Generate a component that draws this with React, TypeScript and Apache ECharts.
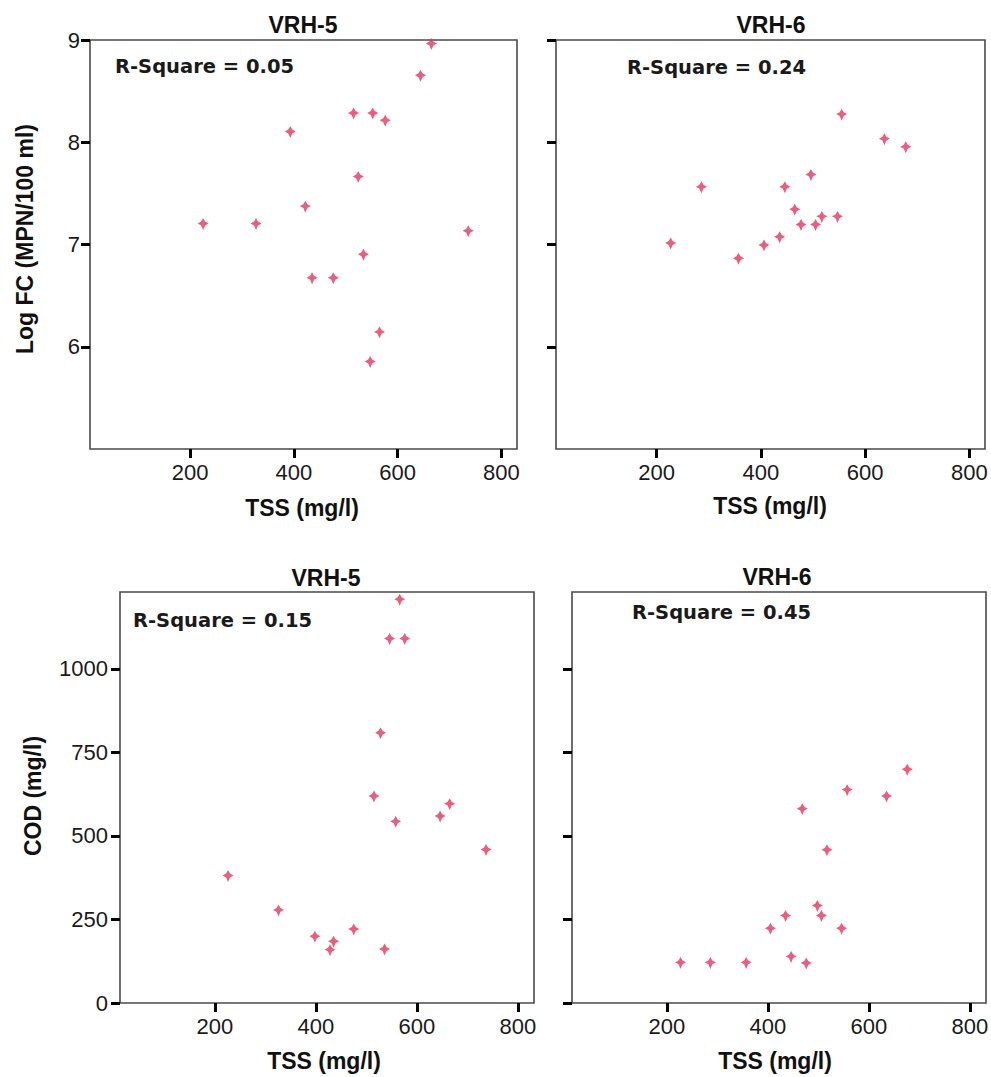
import React, { useEffect, useRef } from "react";
import * as echarts from "echarts";

// ---- data ----
const xTickValues = [200, 400, 600, 800];
const fcTickValues = [6, 7, 8, 9];
const codTickValues = [0, 250, 500, 750, 1000];

const panelTitles = ["VRH-5", "VRH-6", "VRH-5", "VRH-6"];
const rSquareLabels = ["R-Square = 0.05", "R-Square = 0.24", "R-Square = 0.15", "R-Square = 0.45"];

// VRH-5 : Log FC vs TSS
const vrh5TssFc = [225, 327, 393, 422, 435, 476, 515, 524, 534, 552, 547, 565, 576, 644, 665, 736];
const vrh5LogFc = [7.2, 7.2, 8.1, 7.37, 6.67, 6.67, 8.28, 7.66, 6.9, 8.28, 5.85, 6.14, 8.21, 8.65, 8.96, 7.13];

// VRH-6 : Log FC vs TSS
const vrh6TssFc = [227, 286, 357, 406, 436, 446, 465, 477, 496, 505, 517, 547, 555, 637, 678];
const vrh6LogFc = [7.01, 7.56, 6.86, 6.99, 7.07, 7.56, 7.34, 7.19, 7.68, 7.19, 7.27, 7.27, 8.27, 8.03, 7.95];

// VRH-5 : COD vs TSS
const vrh5TssCod = [226, 326, 398, 428, 435, 475, 515, 528, 536, 546, 558, 566, 576, 646, 665, 737];
const vrh5Cod = [380, 277, 198, 158, 183, 220, 618, 807, 160, 1089, 542, 1207, 1089, 558, 595, 458];

// VRH-6 : COD vs TSS
const vrh6TssCod = [227, 286, 357, 405, 435, 446, 468, 476, 498, 506, 517, 546, 557, 635, 676];
const vrh6Cod = [120, 120, 120, 222, 260, 138, 580, 118, 290, 260, 457, 222, 637, 618, 698];

const pairs = (xs: number[], ys: number[]) => xs.map((x, i) => [x, ys[i]]);

const FONT = "Liberation Sans";
const MARKER = "path://M0,-5L1.8,-1.8L5,0L1.8,1.8L0,6L-1.8,1.8L-5,0L-1.8,-1.8Z";
const MARK_COLOR = "#e5365c";

export default function App() {
  const ref = useRef<HTMLDivElement>(null);

  useEffect(() => {
    if (!ref.current) return;
    const chart = echarts.init(ref.current, null, { renderer: "svg" });

    const grids = [
      { left: 90, top: 40, width: 427, height: 409 },
      { left: 556, top: 40, width: 429, height: 409 },
      { left: 120, top: 592, width: 414, height: 411 },
      { left: 572, top: 592, width: 414, height: 411 },
    ].map((g) => ({
      ...g,
      show: true,
      borderColor: "#4a4a4a",
      borderWidth: 1.6,
      backgroundColor: "#ffffff",
      containLabel: false,
      outerBoundsMode: "none",
    }));

    const tick = { show: true, inside: false, length: 9, lineStyle: { color: "#000", width: 3 } };
    const labelStyle = { fontFamily: FONT, fontSize: 22, color: "#1a1a1a" };

    const xAxis = [0, 1, 2, 3].map((i) => ({
      type: "value",
      gridIndex: i,
      min: i < 2 ? 7 : 12,
      max: i < 2 ? 830 : 832,
      axisLine: { show: false },
      splitLine: { show: false },
      axisTick: { ...tick, customValues: xTickValues },
      axisLabel: { ...labelStyle, margin: 12, customValues: xTickValues, formatter: (v: number) => String(v) },
    }));

    const yAxis = [0, 1, 2, 3].map((i) => {
      const top = i < 2;
      const vals = top ? fcTickValues : codTickValues;
      const showLabel = i === 0 || i === 2;
      return {
        type: "value",
        gridIndex: i,
        min: top ? 5 : 0,
        max: top ? 9 : 1230,
        axisLine: { show: false },
        splitLine: { show: false },
        axisTick: { ...tick, customValues: vals },
        axisLabel: {
          ...labelStyle,
          show: showLabel,
          margin: top ? 10 : 12,
          customValues: vals,
          formatter: (v: number) => String(v),
        },
      };
    });

    const mk = (data: number[][], idx: number) => ({
      type: "scatter",
      xAxisIndex: idx,
      yAxisIndex: idx,
      data,
      symbol: MARKER,
      symbolSize: [11, 12],
      itemStyle: { color: MARK_COLOR },
    });

    const series = [
      mk(pairs(vrh5TssFc, vrh5LogFc), 0),
      mk(pairs(vrh6TssFc, vrh6LogFc), 1),
      mk(pairs(vrh5TssCod, vrh5Cod), 2),
      mk(pairs(vrh6TssCod, vrh6Cod), 3),
    ];

    const titlePos = [
      [303, 25],
      [771, 25],
      [326, 578],
      [777, 577],
    ];
    const rsqPos = [
      [115, 66],
      [627, 67],
      [133, 620],
      [632, 612],
    ];
    const xNamePos = [
      [302, 508],
      [770, 506],
      [324, 1061],
      [775, 1061],
    ];

    const texts: any[] = [];
    titlePos.forEach(([x, y], i) =>
      texts.push({
        type: "text",
        x,
        y,
        style: {
          text: panelTitles[i],
          font: `bold 23px "${FONT}"`,
          fill: "#111",
          textAlign: "center",
          textVerticalAlign: "middle",
        },
      })
    );
    rsqPos.forEach(([x, y], i) =>
      texts.push({
        type: "text",
        x,
        y,
        style: {
          text: rSquareLabels[i],
          font: `bold 19.5px "DejaVu Sans"`,
          fill: "#1a1a1a",
          textAlign: "left",
          textVerticalAlign: "middle",
        },
      })
    );
    xNamePos.forEach(([x, y]) =>
      texts.push({
        type: "text",
        x,
        y,
        style: {
          text: "TSS (mg/l)",
          font: `bold 23px "${FONT}"`,
          fill: "#111",
          textAlign: "center",
          textVerticalAlign: "middle",
        },
      })
    );
    texts.push({
      type: "text",
      x: 25,
      y: 239,
      rotation: Math.PI / 2,
      style: {
        text: "Log FC (MPN/100 ml)",
        font: `bold 23px "${FONT}"`,
        fill: "#111",
        textAlign: "center",
        textVerticalAlign: "middle",
      },
    });
    texts.push({
      type: "text",
      x: 33,
      y: 796,
      rotation: Math.PI / 2,
      style: {
        text: "COD (mg/l)",
        font: `bold 23px "${FONT}"`,
        fill: "#111",
        textAlign: "center",
        textVerticalAlign: "middle",
      },
    });

    chart.setOption({
      animation: false,
      backgroundColor: "#ffffff",
      grid: grids,
      xAxis,
      yAxis,
      series,
      graphic: texts,
    });

    return () => chart.dispose();
  }, []);

  return (
    <div
      ref={ref}
      style={{ position: "absolute", left: 0, top: 0, width: 991, height: 1077, background: "#fff" }}
    />
  );
}
